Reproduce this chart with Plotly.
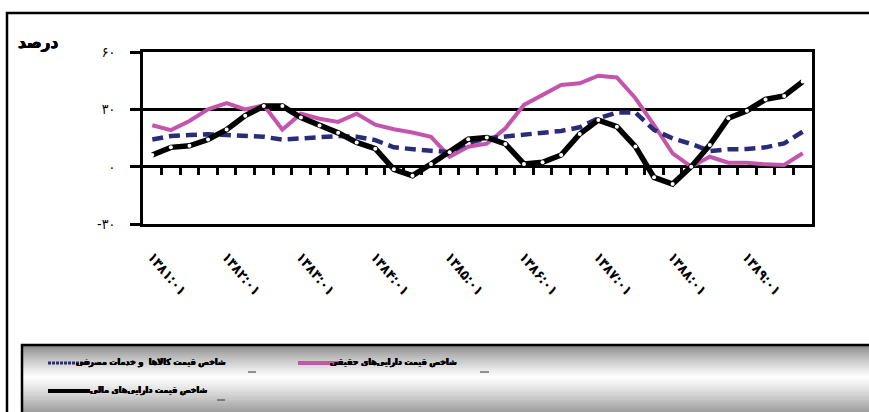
import plotly.graph_objects as go

# ---------------- data ----------------
years = ["۱۳۸۱", "۱۳۸۲", "۱۳۸۳", "۱۳۸۴", "۱۳۸۵", "۱۳۸۶", "۱۳۸۷", "۱۳۸۸", "۱۳۸۹"]
quarters = ["۰۱", "۰۲", "۰۳", "۰۴"]
categories = [f"{y}:{q}" for y in years for q in quarters]
tick_labels = [f"{y}:۰۱" for y in years]

real_assets = [21.7, 19.1, 23.9, 30.0, 33.3, 30.0, 32.1, 19.4, 27.7, 25.1, 23.4, 27.7,
               22.0, 19.6, 17.9, 15.6, 5.2, 10.4, 12.0, 20.1, 32.3, 37.5, 42.7, 43.6,
               47.6, 46.7, 35.8, 21.8, 7.0, 0.0, 5.2, 2.1, 2.1, 1.2, 0.9, 7.0]
consumer_prices = [14.2, 16.0, 16.6, 17.0, 16.6, 16.3, 15.6, 14.2, 14.9, 15.6, 16.0, 15.6,
                   13.9, 10.1, 9.0, 8.3, 7.6, 12.5, 14.8, 15.7, 16.6, 17.4, 18.7, 20.6,
                   25.3, 28.3, 28.3, 19.2, 14.8, 11.9, 8.2, 9.1, 9.2, 10.1, 12.2, 18.3]
financial_assets = [6.1, 10.1, 10.9, 14.2, 19.4, 26.7, 31.7, 31.7, 25.7, 21.5, 17.7, 12.7,
                    9.4, -1.4, -4.7, 1.4, 7.6, 14.4, 15.3, 11.9, 1.4, 2.3, 6.1, 17.1,
                    24.4, 20.9, 10.5, -5.6, -9.1, 0.0, 11.3, 25.3, 29.3, 35.2, 37.0, 44.5]

name_real = "شاخص قیمت دارایی‌های حقیقی"
name_cpi = "شاخص قیمت کالاها  و خدمات مصرفی"
name_fin = "شاخص قیمت دارایی‌های مالی"
y_ticks = [-30, 0, 30, 60]
y_ticktext = ["-۳۰", "۰", "۳۰", "۶۰"]

PINK = "#C455AC"
NAVY = "#2B2C78"
FONT = "DejaVu Sans Condensed, DejaVu Sans"
BOLD_SHADOW = "0.45px 0 0 black, -0.45px 0 0 black, 0 0.3px 0 black"

# ---------------- geometry helpers (pixels -> paper) ----------------
L, R, T, B = 143, 57, 52, 188
W, H = 869, 412
PW, PH = W - L - R, H - T - B


def px(x):
    return (x - L) / PW


def py(y):
    return (H - B - y) / PH


fig = go.Figure()

fig.add_trace(go.Scatter(x=categories, y=real_assets, mode="lines", name=name_real,
                         line=dict(color=PINK, width=4), showlegend=False))
fig.add_trace(go.Scatter(x=categories, y=consumer_prices, mode="lines", name=name_cpi,
                         line=dict(color=NAVY, width=4.5, dash="11px,6px"), showlegend=False))
fig.add_trace(go.Scatter(x=categories, y=financial_assets, mode="lines+markers", name=name_fin,
                         line=dict(color="black", width=5.5),
                         marker=dict(color="white", size=4, line=dict(width=0)),
                         showlegend=False))
# invisible trace to hold the zero-line tick axis
fig.add_trace(go.Scatter(x=[0], y=[None], xaxis="x2", mode="markers",
                         marker=dict(opacity=0), showlegend=False, hoverinfo="skip"))

shapes = []
# outer frame
shapes.append(dict(type="rect", xref="paper", yref="paper",
                   x0=px(7), x1=px(880), y0=py(13), y1=py(420),
                   line=dict(color="black", width=2.5), layer="below"))
# legend box gradient (vertical: gray -> white -> gray)
top, bot = 346, 414
n = 34
for i in range(n):
    y0 = top + (bot - top) * i / n
    y1 = top + (bot - top) * (i + 1) / n
    t = (i + 0.5) / n
    mid = 0.45
    if t < mid:
        g = 135 + (255 - 135) * (t / mid) ** 0.8
    else:
        g = 255 - (255 - 150) * ((t - mid) / (1 - mid)) ** 1.2
    g = int(max(0, min(255, g)))
    shapes.append(dict(type="rect", xref="paper", yref="paper",
                       x0=px(22), x1=px(880), y0=py(y1), y1=py(y0),
                       line=dict(width=0), fillcolor=f"rgb({g},{g},{g})", layer="below"))
shapes.append(dict(type="rect", xref="paper", yref="paper",
                   x0=px(22), x1=px(880), y0=py(420), y1=py(345),
                   line=dict(color="black", width=2.5), layer="below"))
# legend samples
shapes.append(dict(type="line", xref="paper", yref="paper", x0=px(298), x1=px(340),
                   y0=py(363), y1=py(363), line=dict(color=PINK, width=4)))
shapes.append(dict(type="line", xref="paper", yref="paper", x0=px(48), x1=px(90),
                   y0=py(363), y1=py(363), line=dict(color=NAVY, width=3, dash="3px,1px")))
shapes.append(dict(type="line", xref="paper", yref="paper", x0=px(48), x1=px(90),
                   y0=py(391), y1=py(391), line=dict(color="black", width=4)))
# small underscores
for (x0, x1, yy) in [(480, 489, 372), (248, 256, 372), (217, 225, 400)]:
    shapes.append(dict(type="line", xref="paper", yref="paper", x0=px(x0), x1=px(x1),
                       y0=py(yy), y1=py(yy), line=dict(color="#333", width=1)))

LEG_SIZE = 8.8
leg_font = dict(family=FONT, size=LEG_SIZE, color="black", weight="bold", shadow=BOLD_SHADOW)
annotations = [
    dict(text="<b>درصد</b>", xref="paper", yref="paper", x=px(38), y=py(42),
         showarrow=False,
         font=dict(family=FONT, size=17, color="black", weight="bold", shadow=BOLD_SHADOW),
         xanchor="center", yanchor="middle"),
    dict(text=f"<b>{name_real}</b>", xref="paper", yref="paper", x=px(459), y=py(362),
         showarrow=False, font=leg_font, xanchor="right", yanchor="middle"),
    dict(text=f"<b>{name_cpi}</b>", xref="paper", yref="paper", x=px(228), y=py(362),
         showarrow=False, font=leg_font, xanchor="right", yanchor="middle"),
    dict(text=f"<b>{name_fin}</b>", xref="paper", yref="paper", x=px(209), y=py(390),
         showarrow=False, font=leg_font, xanchor="right", yanchor="middle"),
]

fig.update_layout(
    width=W, height=H,
    margin=dict(l=L, r=R, t=T, b=B, pad=0),
    paper_bgcolor="white", plot_bgcolor="white",
    font=dict(family=FONT, color="black"),
    shapes=shapes, annotations=annotations,
    xaxis=dict(type="category", categoryorder="array", categoryarray=categories,
               range=[-0.5, 35.5], tickmode="array", tickvals=tick_labels,
               ticktext=[f"<b>{t}</b>" for t in tick_labels], tickangle=50,
               ticks="", showgrid=False, showline=True, linecolor="black", linewidth=3,
               mirror=True, ticklabelstandoff=16,
               tickfont=dict(family=FONT, size=14, color="black", weight="bold"),
               zeroline=False),
    xaxis2=dict(overlaying="x", anchor="free", position=1 / 3, range=[-0.5, 35.5],
                tickmode="array", tickvals=[i + 0.5 for i in range(35)],
                ticks="outside", ticklen=7, tickwidth=2.5, tickcolor="black",
                showticklabels=False, showgrid=False, showline=False, zeroline=False),
    yaxis=dict(range=[-30, 60], tickmode="array", tickvals=y_ticks, ticktext=y_ticktext,
               ticks="outside", ticklen=10, tickwidth=3, tickcolor="black",
               showgrid=True, gridcolor="black", gridwidth=2.5,
               zeroline=True, zerolinecolor="black", zerolinewidth=3,
               showline=True, linecolor="black", linewidth=3, mirror=True,
               ticklabelstandoff=12,
               tickfont=dict(family=FONT, size=14, color="black")),
    showlegend=False,
)

fig.write_html("out.html")
